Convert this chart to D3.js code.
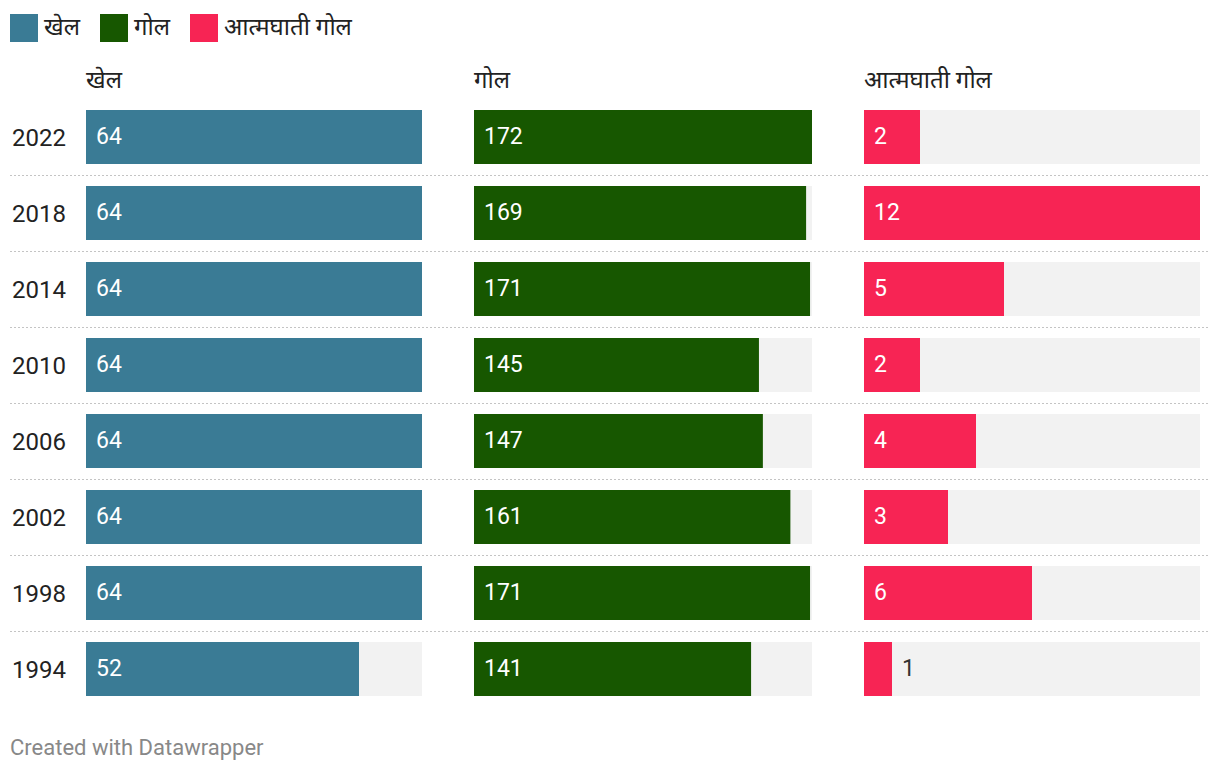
<!DOCTYPE html>
<html><head><meta charset="utf-8">
<script src="https://cdn.jsdelivr.net/npm/d3@7"></script>
<style>
body{margin:0;background:#fff;font-family:Roboto,"Noto Sans",sans-serif;}
</style></head><body>
<svg id="chart" width="1220" height="774"></svg>
<script>
const years = ["2022","2018","2014","2010","2006","2002","1998","1994"];
const seriesNames = ["खेल","गोल","आत्मघाती गोल"];
const matches = [64,64,64,64,64,64,64,52];
const goals = [172,169,171,145,147,161,171,141];
const ownGoals = [2,12,5,2,4,3,6,1];
const colors = ["#3a7b95","#175700","#f72454"];
const footer = "Created with Datawrapper";

const series = [matches, goals, ownGoals];
const svg = d3.select("#chart");
const font = "Roboto, 'Noto Sans', sans-serif";

// legend
const legendX = [10,100,190];
seriesNames.forEach((n,i)=>{
  svg.append("rect").attr("x",legendX[i]).attr("y",14).attr("width",28).attr("height",28).attr("fill",colors[i]);
  svg.append("text").attr("x",legendX[i]+34).attr("y",35).attr("font-size",24).attr("fill","#222").attr("font-family",font).text(n);
});

const y = d3.scaleBand().domain(years).range([110, 110+76*8-22]).paddingInner(22/76).paddingOuter(0);
const colX = [86,474,864];
const colW = [336,338,336];

// separators
years.slice(0,-1).forEach(yr=>{
  const yy = Math.round(y(yr)+y.bandwidth()+ (y.step()-y.bandwidth())/2)+0.5;
  svg.append("line").attr("x1",10).attr("x2",1208).attr("y1",yy).attr("y2",yy)
    .attr("stroke","#c4c4c4").attr("stroke-width",1).attr("stroke-dasharray","2,2");
});

// year labels
years.forEach(yr=>{
  svg.append("text").attr("x",12).attr("y",y(yr)+y.bandwidth()/2+9).attr("font-size",24)
    .attr("fill","#222").attr("font-family",font).text(yr);
});

series.forEach((vals,i)=>{
  const x = d3.scaleLinear().domain([0,d3.max(vals)]).range([0,colW[i]]);
  const g = svg.append("g").attr("transform",`translate(${colX[i]},0)`);
  g.append("text").attr("x",0).attr("y",88).attr("font-size",24).attr("fill","#222").attr("font-family",font).text(seriesNames[i]);
  g.selectAll("rect.bg").data(years).join("rect").attr("class","bg")
    .attr("x",0).attr("y",d=>y(d)).attr("width",colW[i]).attr("height",y.bandwidth()).attr("fill","#f2f2f2");
  g.selectAll("rect.bar").data(vals).join("rect").attr("class","bar")
    .attr("x",0).attr("y",(d,j)=>y(years[j])).attr("width",d=>x(d)).attr("height",y.bandwidth()).attr("fill",colors[i]);
  g.selectAll("text.val").data(vals).join("text").attr("class","val")
    .attr("x",d=> x(d)<40 ? x(d)+10 : 10)
    .attr("y",(d,j)=>y(years[j])+y.bandwidth()/2+7)
    .attr("font-size",23).attr("font-family",font)
    .attr("fill",d=> x(d)<40 ? "#333" : "#fff")
    .text(d=>d);
});

svg.append("text").attr("x",10).attr("y",755).attr("font-size",22).attr("fill","#888").attr("font-family",font).text(footer);
</script>
</body></html>
